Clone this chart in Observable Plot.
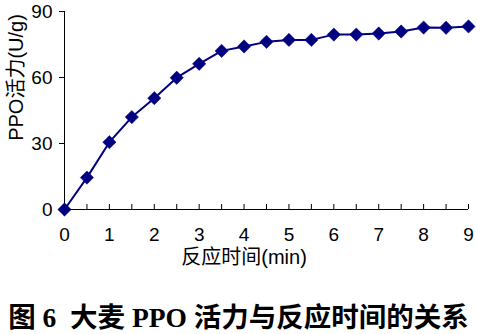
<!DOCTYPE html>
<html>
<head>
<meta charset="utf-8">
<script src="https://cdn.jsdelivr.net/npm/d3@7"></script>
<script src="https://cdn.jsdelivr.net/npm/@observablehq/plot@0.6"></script>
<style>
  body { margin: 0; background: #fff; }
  #title { width: 477px; text-align: center; font-family: "Liberation Serif", "Noto Sans CJK SC", serif; font-weight: bold; font-size: 27.5px; line-height: 30px; margin-top: 28px; color: #000; white-space: nowrap; }
</style>
</head>
<body>
<div id="chart"></div>
<div id="title">图 6&nbsp; 大麦 PPO 活力与反应时间的关系</div>
<script>
const times = [0, 0.5, 1, 1.5, 2, 2.5, 3, 3.5, 4, 4.5, 5, 5.5, 6, 6.5, 7, 7.5, 8, 8.5, 9];
const activity = [0, 14.5, 30.6, 42, 50.6, 59.9, 66.2, 72.1, 74.1, 76.2, 77.1, 77.1, 79.5, 79.5, 80, 80.9, 82.7, 82.6, 83.2];
const yTicks = [0, 30, 60, 90];
const xLabelTicks = [0, 1, 2, 3, 4, 5, 6, 7, 8, 9];
const xMinorTicks = times;
const yTitle = "PPO活力(U/g)";
const xTitle = "反应时间(min)";

const data = times.map((t, i) => ({t, v: activity[i]}));
const navy = "#000080";
const font = "'Liberation Sans', Arial, 'Noto Sans CJK SC', sans-serif";

const chart = Plot.plot({
  width: 477,
  height: 275,
  marginLeft: 64,
  marginRight: 9,
  marginTop: 11,
  marginBottom: 66,
  style: { fontFamily: font, fontSize: "19px", color: "#000", background: "#fff" },
  x: { domain: [0, 9] },
  y: { domain: [0, 90] },
  marks: [
    Plot.axisY({ ticks: yTicks, tickSize: 5, tickPadding: 7, label: null, fontSize: 19 }),
    Plot.axisX({ ticks: xMinorTicks, tickSize: 5, tickFormat: () => "", dy: -5, label: null }),
    Plot.axisX({ ticks: xLabelTicks, tickSize: 0, tickPadding: 18, label: null, fontSize: 19 }),
    Plot.ruleX([0], { stroke: "#000" }),
    Plot.ruleY([0], { stroke: "#000" }),
    Plot.line(data, { x: "t", y: "v", stroke: navy, strokeWidth: 2 }),
    Plot.dot(data, { x: "t", y: "v", symbol: "diamond2", r: 6, fill: navy, stroke: navy, strokeWidth: 0.5 }),
    Plot.text([yTitle], { frameAnchor: "left", y: [60], rotate: -90, textAnchor: "middle", lineAnchor: "middle", dx: -48, fontSize: 20, fill: "#000" }),
    Plot.text([xTitle], { frameAnchor: "bottom", x: [4], dy: 48, lineAnchor: "middle", fontSize: 20, fill: "#000" })
  ]
});
document.getElementById("chart").appendChild(chart);
</script>
</body>
</html>
